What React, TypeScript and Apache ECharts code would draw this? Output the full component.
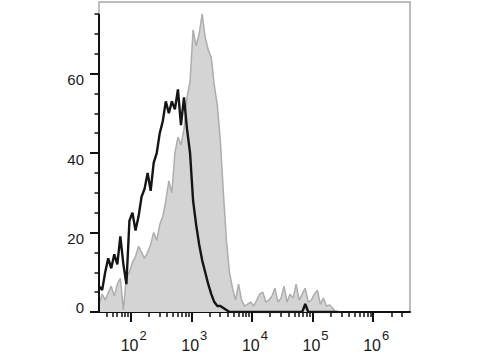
import React, { useEffect, useRef } from "react";
import * as echarts from "echarts";

// log10 bin positions (fluorescence channel, decades)
const binLog = [
  1.48, 1.53, 1.58, 1.63, 1.68, 1.73, 1.78, 1.83, 1.88, 1.93,
  1.98, 2.03, 2.08, 2.13, 2.18, 2.23, 2.28, 2.33, 2.38, 2.43,
  2.48, 2.53, 2.58, 2.63, 2.68, 2.73, 2.78, 2.83, 2.88, 2.93,
  2.98, 3.03, 3.08, 3.13, 3.18, 3.23, 3.28, 3.33, 3.38, 3.43,
  3.48, 3.53, 3.58, 3.63, 3.68, 3.73, 3.78, 3.83, 3.88, 3.93,
  3.98, 4.03, 4.08, 4.13, 4.18, 4.23, 4.28, 4.33, 4.38, 4.43,
  4.48, 4.53, 4.58, 4.63, 4.68, 4.73, 4.78, 4.83, 4.88, 4.93,
  4.98, 5.03, 5.08, 5.13, 5.18, 5.23, 5.28, 5.33, 5.38, 5.43,
];

// stained sample (grey filled)
const stainedCounts = [
  2, 4.5, 3, 4.8, 6.5, 4, 7, 8.5, 0.5, 9,
  10, 12.5, 14, 16.5, 15, 13.5, 15, 17, 20, 18,
  22, 24, 28, 33, 30, 40, 44, 42, 46, 54,
  58, 71, 67, 70, 75, 69, 66, 64, 57, 52,
  43, 30, 18, 10, 6, 3, 7, 3, 1.5, 2,
  2.5, 1.5, 3, 4.5, 5, 2.5, 3, 4, 6, 2.5,
  3.5, 6.5, 2.5, 4.5, 3.5, 7, 3, 4.5, 6, 2.5,
  3, 4.5, 5.5, 2, 3.5, 1.5, 1.8, 1, 0, 0,
];

// control (black line)
const controlCounts = [
  6.5, 5.5, 10, 13.5, 11, 14.5, 12, 19, 12, 7,
  23, 25, 20.5, 24, 29, 31, 35, 30.5, 37.5, 40,
  45, 48, 53, 50, 53, 51, 56, 47, 54, 46,
  40, 28, 22, 17, 13, 10, 7, 4.5, 2.5, 1.5,
  1.5, 1, 0.5, 0, 0, 0, 0, 0, 0, 0,
  0, 0, 0, 0, 0, 0, 0, 0, 0, 0,
  0, 0, 0, 0, 0, 0, 0, 0, 2, 0,
  0, 0, 0, 0, 0, 0, 0, 0, 0, 0,
];

const xMin = 1.478;
const xMax = 6.608;
const yMin = 0;
const yMax = 78;
const yAxisLineTop = 75;
const yMajorTicks = [0, 20, 40, 60];
const yMinorTicks = [5, 10, 15, 25, 30, 35, 45, 50, 55, 65, 70, 75];
const xMajorDecades = [2, 3, 4, 5, 6];
const xMinorRaw = [
  30, 40, 50, 60, 70, 80, 90,
  200, 300, 400, 500, 600, 700, 800, 900,
  2000, 3000, 4000, 5000, 6000, 7000, 8000, 9000,
  20000, 30000, 40000, 50000, 60000, 70000, 80000, 90000,
  200000, 300000, 400000, 500000, 600000, 700000, 800000, 900000,
  2000000, 3000000,
];

const FONT = "Liberation Sans, Arial, Helvetica, sans-serif";

export default function App() {
  const ref = useRef<HTMLDivElement>(null);
  useEffect(() => {
    document.body.style.margin = "0";
    if (!ref.current) return;
    const chart = echarts.init(ref.current, undefined, { renderer: "svg" });
    const xMinor = xMinorRaw.map((v) => Math.log10(v));
    const stained = binLog.map((x, i) => [x, stainedCounts[i]]);
    const control = binLog.map((x, i) => [x, controlCounts[i]]);
    chart.setOption({
      animation: false,
      backgroundColor: "#ffffff",
      grid: {
        left: 99,
        right: 70,
        top: 2,
        bottom: 48,
        show: true,
        borderColor: "#a8a8a8",
        borderWidth: 1.5,
        backgroundColor: "transparent",
      },
      xAxis: [
        {
          type: "value",
          position: "bottom",
          min: xMin,
          max: xMax,
          axisLine: { show: true, lineStyle: { color: "#111", width: 2 } },
          axisTick: {
            show: true,
            customValues: xMajorDecades,
            length: 10,
            lineStyle: { color: "#111", width: 2 },
          },
          splitLine: { show: false },
          axisLabel: {
            show: true,
            customValues: xMajorDecades,
            margin: 21,
            formatter: (v: number) => `{sp|}{b|10}{s|${Math.round(v)}}`,
            rich: {
              sp: { width: 6 },
              b: {
                fontSize: 16,
                lineHeight: 16,
                padding: [8, 0, 0, 0],
                fontFamily: FONT,
                color: "#1a1a1a",
              },
              s: {
                fontSize: 13,
                lineHeight: 13,
                padding: [0, 0, 11, 1],
                fontFamily: FONT,
                color: "#1a1a1a",
              },
            },
          },
        },
        {
          type: "value",
          position: "bottom",
          min: xMin,
          max: xMax,
          axisLine: { show: false },
          axisTick: {
            show: true,
            customValues: xMinor,
            length: 5,
            lineStyle: { color: "#111", width: 1.5 },
          },
          axisLabel: { show: false },
          splitLine: { show: false },
        },
      ],
      yAxis: [
        {
          type: "value",
          position: "left",
          min: yMin,
          max: yMax,
          axisLine: { show: false },
          axisTick: {
            show: true,
            customValues: yMajorTicks,
            length: 9,
            lineStyle: { color: "#111", width: 2 },
          },
          splitLine: { show: false },
          axisLabel: {
            show: true,
            customValues: yMajorTicks,
            margin: 15,
            formatter: (v: number) => (v === 0 ? `{z|0}` : `{a|${v}}`),
            rich: {
              a: {
                fontSize: 15,
                padding: [12, 0, 0, 0],
                fontFamily: FONT,
                color: "#1a1a1a",
              },
              z: {
                fontSize: 15,
                padding: [0, 0, 10, 0],
                fontFamily: FONT,
                color: "#1a1a1a",
              },
            },
          },
        },
        {
          type: "value",
          position: "left",
          min: yMin,
          max: yMax,
          axisLine: { show: false },
          axisTick: {
            show: true,
            customValues: yMinorTicks,
            length: 4.5,
            lineStyle: { color: "#111", width: 1.5 },
          },
          axisLabel: { show: false },
          splitLine: { show: false },
        },
      ],
      series: [
        {
          type: "line",
          xAxisIndex: 0,
          yAxisIndex: 0,
          data: stained,
          showSymbol: false,
          symbol: "none",
          lineStyle: { color: "#adadad", width: 1.5 },
          areaStyle: { color: "#d4d4d4", opacity: 1 },
          z: 2,
        },
        {
          type: "line",
          xAxisIndex: 0,
          yAxisIndex: 0,
          data: control,
          showSymbol: false,
          symbol: "none",
          lineStyle: { color: "#151515", width: 2.4 },
          z: 3,
          markLine: {
            silent: true,
            symbol: ["none", "none"],
            label: { show: false },
            lineStyle: { color: "#111", width: 2, type: "solid" },
            data: [[{ coord: [xMin, yMin] }, { coord: [xMin, yAxisLineTop] }]],
          },
        },
      ],
    });
    return () => chart.dispose();
  }, []);
  return (
    <div
      ref={ref}
      style={{ position: "absolute", left: 0, top: 0, width: 480, height: 360 }}
    />
  );
}
